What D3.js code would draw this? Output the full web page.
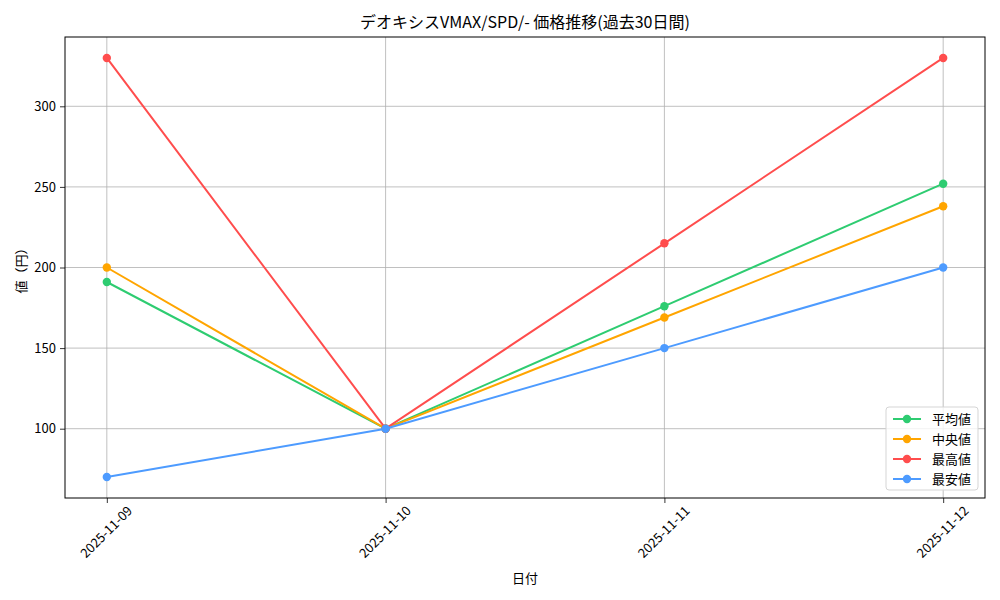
<!DOCTYPE html>
<html>
<head>
<meta charset="utf-8">
<script src="https://cdn.jsdelivr.net/npm/d3@7"></script>
<style>
body { margin: 0; background: #fff; }
text { font-family: "Noto Sans CJK JP", "DejaVu Sans", sans-serif; fill: #000; }
</style>
</head>
<body>
<svg id="chart" width="1000" height="600"></svg>
<script>
var dates = ["2025-11-09", "2025-11-10", "2025-11-11", "2025-11-12"];
var seriesNames = ["平均値", "中央値", "最高値", "最安値"];
var avgValues = [191, 100, 176, 252];
var medianValues = [200, 100, 169, 238];
var maxValues = [330, 100, 215, 330];
var minValues = [70, 100, 150, 200];
var yTicks = [100, 150, 200, 250, 300];
var colors = ["#2ecc71", "#ffa500", "#ff4d4d", "#4d9bff"];

var series = [avgValues, medianValues, maxValues, minValues].map(function(v, i) {
    return { name: seriesNames[i], values: v, color: colors[i] };
});

var svg = d3.select("#chart");
var plotL = 65, plotR = 985, plotT = 37, plotB = 498;

// 5% margins like matplotlib
var x = d3.scaleLinear().domain([-0.15, 3.15]).range([plotL, plotR]);
var allVals = d3.merge(series.map(function(s) { return s.values; }));
var lo = d3.min(allVals), hi = d3.max(allVals), pad = (hi - lo) * 0.05;
var y = d3.scaleLinear().domain([lo - pad, hi + pad]).range([plotB, plotT]);

// grid
var g = svg.append("g");
g.selectAll("line.vg").data(dates).enter().append("line")
    .attr("x1", function(d, i) { return x(i); }).attr("x2", function(d, i) { return x(i); })
    .attr("y1", plotT).attr("y2", plotB)
    .attr("stroke", "#b0b0b0").attr("stroke-width", 0.8);
g.selectAll("line.hg").data(yTicks).enter().append("line")
    .attr("x1", plotL).attr("x2", plotR)
    .attr("y1", function(d) { return y(d); }).attr("y2", function(d) { return y(d); })
    .attr("stroke", "#b0b0b0").attr("stroke-width", 0.8);

// axes
var yAxis = svg.append("g").attr("transform", "translate(" + plotL + ",0)")
    .call(d3.axisLeft(y).tickValues(yTicks).tickSize(5).tickPadding(4));
var xAxis = svg.append("g").attr("transform", "translate(0," + plotB + ")")
    .call(d3.axisBottom(x).tickValues([0, 1, 2, 3]).tickFormat(function(i) { return dates[i]; }).tickSize(5));
[yAxis, xAxis].forEach(function(a) {
    a.select(".domain").remove();
    a.selectAll("text").style("font-size", "13px").attr("fill", "#000");
    a.selectAll(".tick line").attr("stroke", "#000").attr("stroke-width", 0.8);
});
// rotated labels centred under the tick (matplotlib rotation=45, ha=center)
xAxis.selectAll("text")
    .attr("text-anchor", "middle")
    .attr("dy", "0.35em")
    .attr("y", 0).attr("x", 0)
    .attr("transform", "translate(-1,34) rotate(-45)");

// frame
svg.append("rect").attr("x", plotL).attr("y", plotT)
    .attr("width", plotR - plotL).attr("height", plotB - plotT)
    .attr("fill", "none").attr("stroke", "#000").attr("stroke-width", 1);

// lines + markers
var line = d3.line().x(function(d, i) { return x(i); }).y(function(d) { return y(d); });
series.forEach(function(s) {
    svg.append("path").attr("d", line(s.values))
        .attr("fill", "none").attr("stroke", s.color).attr("stroke-width", 2);
    svg.selectAll(null).data(s.values).enter().append("circle")
        .attr("cx", function(d, i) { return x(i); }).attr("cy", function(d) { return y(d); })
        .attr("r", 4.2).attr("fill", s.color);
});

// title and labels
svg.append("text").attr("x", (plotL + plotR) / 2).attr("y", 28)
    .attr("text-anchor", "middle").style("font-size", "16px")
    .text("デオキシスVMAX/SPD/- 価格推移(過去30日間)");
svg.append("text").attr("x", (plotL + plotR) / 2).attr("y", 583)
    .attr("text-anchor", "middle").style("font-size", "13px").text("日付");
svg.append("text").attr("transform", "translate(26," + ((plotT + plotB) / 2) + ") rotate(-90)")
    .attr("text-anchor", "middle").style("font-size", "13px").text("値（円）");

// legend
var lg = svg.append("g").attr("transform", "translate(886,407)");
lg.append("rect").attr("width", 92).attr("height", 83).attr("rx", 3)
    .attr("fill", "#fff").attr("fill-opacity", 0.8).attr("stroke", "#d5d5d5");
series.forEach(function(s, i) {
    var yy = 12 + i * 20;
    lg.append("line").attr("x1", 7).attr("x2", 35).attr("y1", yy).attr("y2", yy)
        .attr("stroke", s.color).attr("stroke-width", 2);
    lg.append("circle").attr("cx", 21).attr("cy", yy).attr("r", 4.2).attr("fill", s.color);
    lg.append("text").attr("x", 46).attr("y", yy).attr("dy", "0.35em")
        .style("font-size", "13px").text(s.name);
});
</script>
</body>
</html>
